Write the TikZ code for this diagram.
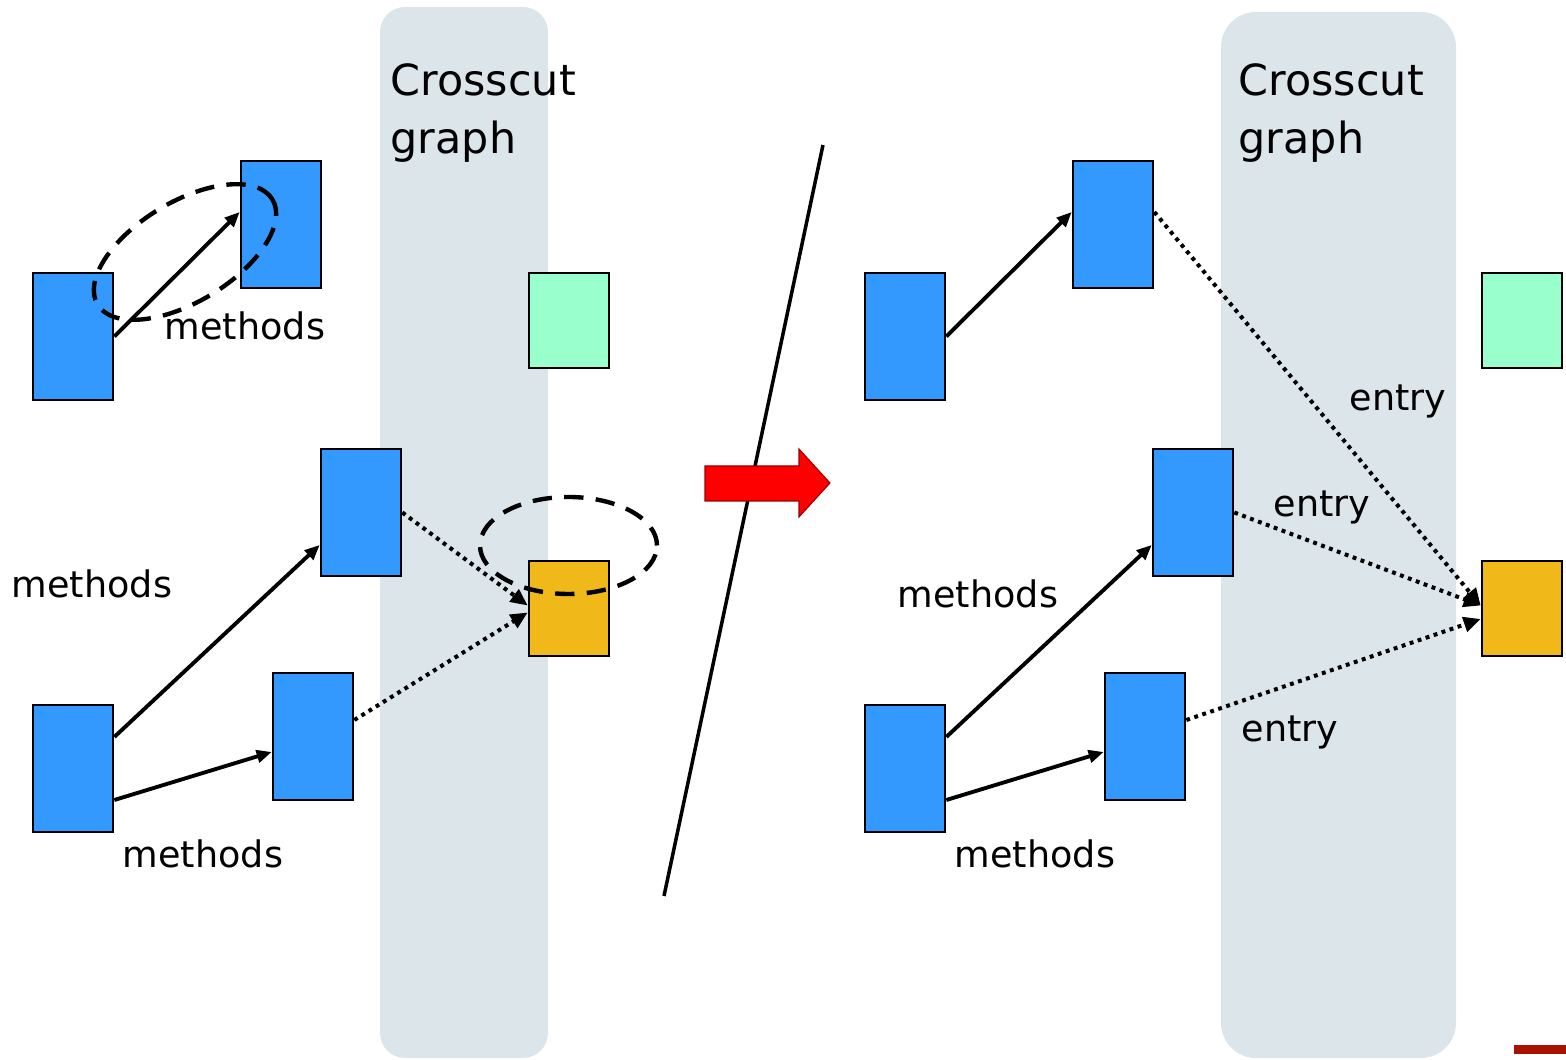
\documentclass[tikz,border=0pt]{standalone}
\usepackage{fontspec}
\setmainfont{DejaVu Sans}
\usetikzlibrary{arrows.meta}
\definecolor{bandgray}{RGB}{220,230,234}
\definecolor{methblue}{RGB}{51,153,255}
\definecolor{othgreen}{RGB}{153,255,204}
\definecolor{entorange}{RGB}{240,184,24}
\definecolor{barred}{RGB}{170,17,0}
\begin{document}
\begin{tikzpicture}[font=\fontsize{10.4}{12}\selectfont,
	meth/.style={draw,fill=methblue,line width=0.75pt,minimum width=0.8cm,minimum height=1.27cm,inner sep=0pt},
	sq/.style={draw,line width=0.75pt,minimum width=0.8cm,minimum height=0.95cm,inner sep=0pt},
	call/.style={line width=1.1pt,-{Triangle[length=1.5mm,width=1.25mm]}},
	entr/.style={line width=1.15pt,dash pattern=on 1.1pt off 1.3pt,-{Triangle[length=1.7mm,width=1.5mm]}},
	ring/.style={line width=1.25pt,dash pattern=on 5.5pt off 3.5pt},
	title/.style={anchor=north west,inner sep=0pt,align=left,font=\fontsize{12.2}{16.5}\selectfont}]
	\useasboundingbox (0,0) rectangle (15.66,-10.6);
	% Avant
	\fill[bandgray,rounded corners=0.25cm] (3.80,-0.07) rectangle (5.48,-10.58);
	\node[title] (ltitle) at (3.90,-0.63) {Crosscut\\graph};
	\node[meth] (la1) at (0.73,-3.365) {};
	\node[meth] (la2) at (2.81,-2.245) {};
	\node[meth] (lb1) at (3.61,-5.125) {};
	\node[meth] (lb0) at (0.73,-7.685) {};
	\node[meth] (lb2) at (3.13,-7.365) {};
	\node[sq,fill=othgreen] (lgreen) at (5.69,-3.205) {};
	\node[sq,fill=entorange] (lorange) at (5.69,-6.085) {};
	\draw[call] (la1.east) -- ([yshift=1.25mm]la2.west);
	\draw[call] ([yshift=3.15mm]lb0.east) -- ([yshift=-3.25mm]lb1.west);
	\draw[call] ([yshift=-3.15mm]lb0.east) -- ([yshift=-1.55mm]lb2.west);
	\draw[entr] (lb1.east) -- ([yshift=0.3mm]lorange.west);
	\draw[entr] ([yshift=1.65mm]lb2.east) -- ([yshift=-0.4mm]lorange.west);
	\draw[ring,rotate around={31:(1.85,-2.52)}] (1.85,-2.52) ellipse (1.02 and 0.5);
	\draw[ring] (5.685,-5.455) ellipse (0.885 and 0.485);
	\node[anchor=base] (lm1) at (2.45,-3.40) {methods};
	\node[anchor=base] (lm2) at (0.92,-5.98) {methods};
	\node[anchor=base] (lm3) at (2.03,-8.68) {methods};
	% Separation
	\draw[line width=1pt] (8.23,-1.45) -- (6.64,-8.96);
	\draw[fill=red,draw=red!60!black,line width=0.3pt] (7.05,-4.66) -- (7.99,-4.66) -- (7.99,-4.49) -- (8.30,-4.83) -- (7.99,-5.17) -- (7.99,-5.01) -- (7.05,-5.01) -- cycle;
	% Apres
	\fill[bandgray,rounded corners=0.35cm] (12.21,-0.12) rectangle (14.56,-10.58);
	\node[title] (rtitle) at (12.38,-0.63) {Crosscut\\graph};
	\node[meth] (ra1) at (9.05,-3.365) {};
	\node[meth] (ra2) at (11.13,-2.245) {};
	\node[meth] (rb1) at (11.93,-5.125) {};
	\node[meth] (rb0) at (9.05,-7.685) {};
	\node[meth] (rb2) at (11.45,-7.365) {};
	\node[sq,fill=othgreen] (rgreen) at (15.22,-3.205) {};
	\node[sq,fill=entorange] (rorange) at (15.22,-6.085) {};
	\draw[call] (ra1.east) -- ([yshift=1.25mm]ra2.west);
	\draw[call] ([yshift=3.15mm]rb0.east) -- ([yshift=-3.25mm]rb1.west);
	\draw[call] ([yshift=-3.15mm]rb0.east) -- ([yshift=-1.55mm]rb2.west);
	\draw[entr] ([yshift=1.25mm]ra2.east) -- ([yshift=0.3mm]rorange.west);
	\draw[entr] (rb1.east) -- ([yshift=0.3mm]rorange.west);
	\draw[entr] ([yshift=1.65mm]rb2.east) -- ([yshift=-1.05mm]rorange.west);
	\node[anchor=base] (rm1) at (9.78,-6.08) {methods};
	\node[anchor=base] (rm2) at (10.35,-8.68) {methods};
	\node[anchor=base] (re1) at (13.98,-4.11) {entry};
	\node[anchor=base] (re2) at (13.22,-5.17) {entry};
	\node[anchor=base] (re3) at (12.90,-7.42) {entry};
	\fill[barred] (15.14,-10.45) rectangle (15.66,-10.54);
\end{tikzpicture}
\end{document}
